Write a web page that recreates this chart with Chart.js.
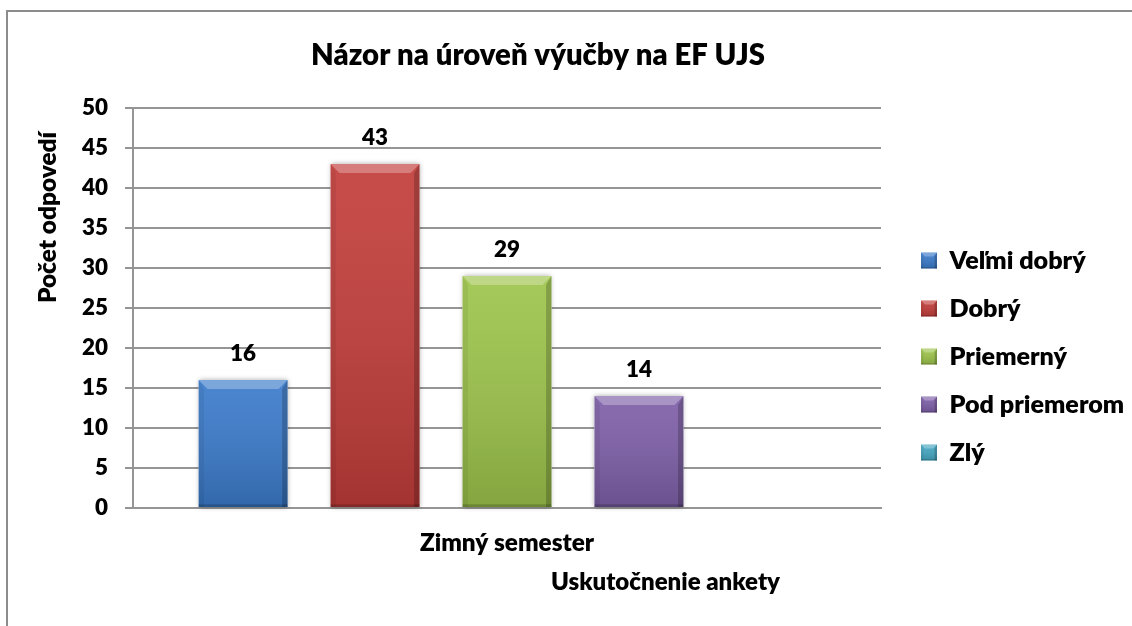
<!DOCTYPE html>
<html>
<head>
<meta charset="utf-8">
<script src="https://cdn.jsdelivr.net/npm/chart.js@4.4.1/dist/chart.umd.min.js"></script>
<style>
  html, body { margin: 0; padding: 0; background: #ffffff; }
  #wrap { position: relative; width: 1132px; height: 626px; overflow: hidden; }
  #frame { position: absolute; left: 6px; top: 10px; right: -10px; bottom: -10px;
           border-left: 2px solid #8c8c8c; border-top: 2px solid #8c8c8c; }
  canvas { position: absolute; left: 0; top: 0; }
</style>
</head>
<body>
<div id="wrap">
  <div id="frame"></div>
  <canvas id="c" width="1132" height="626"></canvas>
</div>
<script>
// ---- data ----
const categories = ['Zimný semester'];
const seriesNames = ['Veľmi dobrý', 'Dobrý', 'Priemerný', 'Pod priemerom', 'Zlý'];
const velmiDobry = [16];
const dobry = [43];
const priemerny = [29];
const podPriemerom = [14];
const zly = [null];
const seriesColors = ['#3b7bcb', '#c23d3a', '#9dc44b', '#7e5fa8', '#45a8c2'];
const yMin = 0, yMax = 50, yStep = 5;
const chartTitle = 'Názor na úroveň výučby na EF UJS';
const yAxisTitle = 'Počet odpovedí';
const xAxisTitle = 'Uskutočnenie ankety';

const seriesValues = [velmiDobry, dobry, priemerny, podPriemerom, zly];
const FONT = 'Lato';
const WEIGHT = '800';

// font size that gives a text the width it has in the original
const mctx = document.createElement('canvas').getContext('2d');
function fit(text, target) {
  mctx.font = WEIGHT + ' 100px ' + FONT;
  return Math.round(100 * target / mctx.measureText(text).width * 10) / 10;
}

function bevelRect(ctx, l, t, w, h, bev) {
  const r = l + w, b = t + h;
  const g = ctx.createLinearGradient(0, t, 0, b);
  g.addColorStop(0, 'rgba(255,255,255,0.08)');
  g.addColorStop(1, 'rgba(0,0,0,0.16)');
  ctx.fillStyle = g;
  ctx.fillRect(l, t, w, h);
  ctx.fillStyle = 'rgba(255,255,255,0.28)';
  ctx.beginPath(); ctx.moveTo(l, t); ctx.lineTo(r, t); ctx.lineTo(r - bev, t + bev); ctx.lineTo(l + bev, t + bev); ctx.closePath(); ctx.fill();
  const sb = Math.max(2, bev * 0.6);
  ctx.fillStyle = 'rgba(0,0,0,0.06)';
  ctx.beginPath(); ctx.moveTo(l, t); ctx.lineTo(l + sb, t + bev); ctx.lineTo(l + sb, b); ctx.lineTo(l, b); ctx.closePath(); ctx.fill();
  ctx.fillStyle = 'rgba(0,0,0,0.20)';
  ctx.beginPath(); ctx.moveTo(r, t); ctx.lineTo(r - sb, t + bev); ctx.lineTo(r - sb, b); ctx.lineTo(r, b); ctx.closePath(); ctx.fill();
  ctx.fillStyle = 'rgba(0,0,0,0.18)';
  ctx.fillRect(l, b - Math.max(1, bev * 0.3), w, Math.max(1, bev * 0.3));
}

function build() {
  const sTitle = fit(chartTitle, 454);
  const sTick = fit('45', 26);
  const sLabel = fit('29', 26);
  const sLegend = fit('Veľmi dobrý', 136);
  const sCat = fit('Zimný semester', 174);
  const sXTitle = fit(xAxisTitle, 229);
  const sYTitle = fit(yAxisTitle, 171);
  const legPad = 48 - sLegend;

  const layoutPlugin = {
    id: 'layoutTweak',
    afterLayout(chart) {
      const tb = chart.titleBlock;
      if (tb) { tb.left = 0; tb.right = 1076; tb.width = 1076; }
      const lg = chart.legend;
      if (lg) {
        lg.left = 921 - legPad; lg.right = 1132; lg.width = lg.right - lg.left;
        lg.top = 260.5 - sLegend / 2 - legPad; lg.bottom = 626; lg.height = lg.bottom - lg.top;
      }
    }
  };

  const barFx = {
    id: 'barFx',
    beforeDatasetsDraw(chart) {
      const ctx = chart.ctx;
      ctx.save();
      chart.data.datasets.forEach((ds, i) => {
        chart.getDatasetMeta(i).data.forEach((el, j) => {
          if (ds.data[j] == null) return;
          const p = el.getProps(['x', 'y', 'base', 'width'], true);
          ctx.shadowColor = 'rgba(0,0,0,0.35)';
          ctx.shadowBlur = 5;
          ctx.fillStyle = '#ffffff';
          ctx.fillRect(p.x - p.width / 2, p.y, p.width, p.base - p.y);
        });
      });
      ctx.restore();
    },
    afterDatasetsDraw(chart) {
      const ctx = chart.ctx;
      ctx.save();
      chart.data.datasets.forEach((ds, i) => {
        chart.getDatasetMeta(i).data.forEach((el, j) => {
          const v = ds.data[j];
          if (v == null) return;
          const p = el.getProps(['x', 'y', 'base', 'width'], true);
          bevelRect(ctx, p.x - p.width / 2, p.y, p.width, p.base - p.y, 9);
          ctx.fillStyle = '#000000';
          ctx.font = WEIGHT + ' ' + sLabel + 'px ' + FONT;
          ctx.textAlign = 'center';
          ctx.textBaseline = 'middle';
          ctx.fillText(String(v), p.x, p.y - 26);
        });
      });
      ctx.restore();
    },
    afterDraw(chart) {
      const ctx = chart.ctx;
      const ca = chart.chartArea;
      ctx.save();
      const lg = chart.legend;
      if (lg && lg.legendHitBoxes) {
        lg.legendHitBoxes.forEach(hb => {
          bevelRect(ctx, hb.left, hb.top + (hb.height - 16) / 2, 16, 16, 4);
        });
      }
      ctx.fillStyle = '#000000';
      ctx.textBaseline = 'middle';
      ctx.textAlign = 'center';
      ctx.font = WEIGHT + ' ' + sXTitle + 'px ' + FONT;
      ctx.fillText(xAxisTitle, 665.5, ca.bottom + 74);
      ctx.translate(48, 217.5);
      ctx.rotate(-Math.PI / 2);
      ctx.font = WEIGHT + ' ' + sYTitle + 'px ' + FONT;
      ctx.fillText(yAxisTitle, 0, 0);
      ctx.restore();
    }
  };

  Chart.defaults.font.family = FONT;
  Chart.defaults.color = '#000000';
  new Chart(document.getElementById('c'), {
    type: 'bar',
    data: {
      labels: categories,
      datasets: seriesNames.map((name, i) => ({
        label: name,
        data: seriesValues[i],
        backgroundColor: seriesColors[i],
        borderWidth: 0,
        categoryPercentage: 0.882,
        barPercentage: 0.674
      }))
    },
    options: {
      responsive: false,
      animation: false,
      devicePixelRatio: 1,
      layout: { padding: { left: 0, right: 251, top: 0, bottom: 0 } },
      plugins: {
        title: {
          display: true,
          text: chartTitle,
          color: '#000000',
          font: { size: sTitle, weight: WEIGHT, lineHeight: 1.2 },
          padding: { top: 56 - sTitle * 0.6, bottom: 108 - 56 - sTitle * 0.6 }
        },
        legend: {
          position: 'chartArea',
          align: 'start',
          labels: {
            boxWidth: 16,
            boxHeight: 16,
            padding: legPad,
            color: '#000000',
            font: { size: sLegend, weight: WEIGHT }
          }
        },
        tooltip: { enabled: false }
      },
      scales: {
        x: {
          grid: { display: false },
          border: { display: true, color: '#959595', width: 2 },
          ticks: { font: { size: sCat, weight: WEIGHT }, color: '#000000', padding: 13 },
          afterFit(s) { s.height = 118; }
        },
        y: {
          min: yMin,
          max: yMax,
          ticks: { stepSize: yStep, font: { size: sTick, weight: WEIGHT }, color: '#000000', padding: 17 },
          grid: { color: '#959595', lineWidth: 2, tickLength: 8, drawTicks: true },
          border: { display: true, color: '#959595', width: 2 },
          afterFit(s) { s.width = 133; }
        }
      }
    },
    plugins: [layoutPlugin, barFx]
  });
}

let built = false;
function go() { if (!built) { built = true; build(); } }
if (document.fonts && document.fonts.load) {
  Promise.all([document.fonts.load(WEIGHT + ' 20px Lato'), document.fonts.load('bold 20px Lato')]).then(go, go);
  setTimeout(go, 1500);
} else { go(); }
</script>
</body>
</html>
